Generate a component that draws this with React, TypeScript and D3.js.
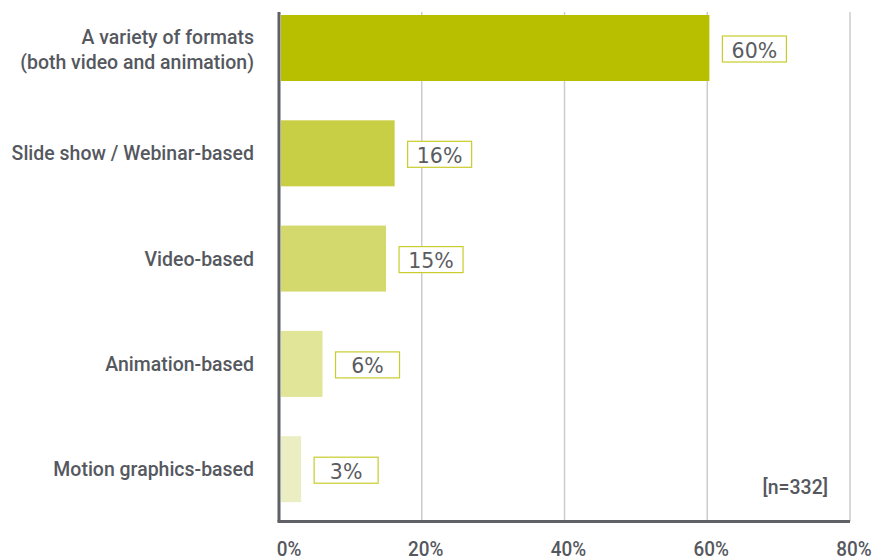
import React from "react";
import * as d3 from "d3";

const categories = [
  ["A variety of formats", "(both video and animation)"],
  ["Slide show / Webinar-based"],
  ["Video-based"],
  ["Animation-based"],
  ["Motion graphics-based"],
];
const values = [60.3, 16.2, 15, 6.1, 3.1];
const valueLabels = ["60%", "16%", "15%", "6%", "3%"];
const barColors = ["#b8bf00", "#c9cf45", "#d4d96e", "#e1e598", "#ebeec2"];
const ticks = [0, 20, 40, 60, 80];
const note = "[n=332]";

const W = 875;
const H = 560;
const left = 279;
const right = 850;
const top = 12;
const bottom = 521.5;

export default function App() {
  const x = d3.scaleLinear().domain([0, 80]).range([left, right]);
  const y = d3
    .scaleBand<number>()
    .domain(d3.range(categories.length))
    .range([15, 502.2])
    .paddingInner(0.373)
    .paddingOuter(0);
  const labelFont = "Roboto, 'Liberation Sans', sans-serif";
  const textColor = "#55585e";
  return (
    <svg
      width={W}
      height={H}
      style={{ position: "absolute", left: 0, top: 0, background: "#fff" }}
    >
      {ticks.slice(1).map((t) => (
        <line key={t} x1={x(t)} x2={x(t)} y1={top} y2={bottom} stroke="#cccccc" strokeWidth={1.5} />
      ))}
      {values.map((v, i) => {
        const by = y(i)!;
        const bh = y.bandwidth();
        const bx0 = x(0) + 2;
        const bx1 = x(v);
        const boxX = bx1 + 13;
        const boxW = 64;
        const boxH = 26;
        const cy = by + bh / 2 + 1;
        const lines = categories[i];
        const firstBase = lines.length === 1 ? cy + 6 : cy - 5;
        return (
          <g key={i}>
            <rect x={bx0} y={by} width={bx1 - bx0} height={bh} fill={barColors[i]} />
            <rect
              x={boxX}
              y={cy - boxH / 2}
              width={boxW}
              height={boxH}
              fill="#fff"
              stroke="#c8cd2c"
              strokeWidth={1.2}
            />
            <text
              x={boxX + boxW / 2}
              y={cy + 8.5}
              textAnchor="middle"
              fontFamily="'DejaVu Sans', sans-serif"
              fontSize={20.5}
              fill="#5a5c60"
            >
              {valueLabels[i]}
            </text>
            {lines.map((l, j) => (
              <text
                key={j}
                transform={`translate(254, ${firstBase + j * 25}) scale(0.95, 1)`}
                textAnchor="end"
                fontFamily={labelFont}
                fontWeight={500}
                fontSize={20.5}
                fill={textColor}
              >
                {l}
              </text>
            ))}
          </g>
        );
      })}
      <line x1={left} x2={left} y1={top} y2={bottom} stroke="#5f6166" strokeWidth={3} />
      <line x1={left - 1.5} x2={right} y1={bottom} y2={bottom} stroke="#5f6166" strokeWidth={3} />
      {ticks.map((t) => (
        <text
          key={t}
          transform={`translate(${x(t) + (t === 0 ? 10 : 4)}, 556) scale(0.9, 1)`}
          textAnchor="middle"
          fontFamily={labelFont}
          fontWeight={500}
          fontSize={21}
          fill={textColor}
        >
          {t}%
        </text>
      ))}
      <text
        transform="translate(828, 494) scale(0.95, 1)"
        textAnchor="end"
        fontFamily={labelFont}
        fontWeight={500}
        fontSize={20.5}
        fill={textColor}
      >
        {note}
      </text>
    </svg>
  );
}
